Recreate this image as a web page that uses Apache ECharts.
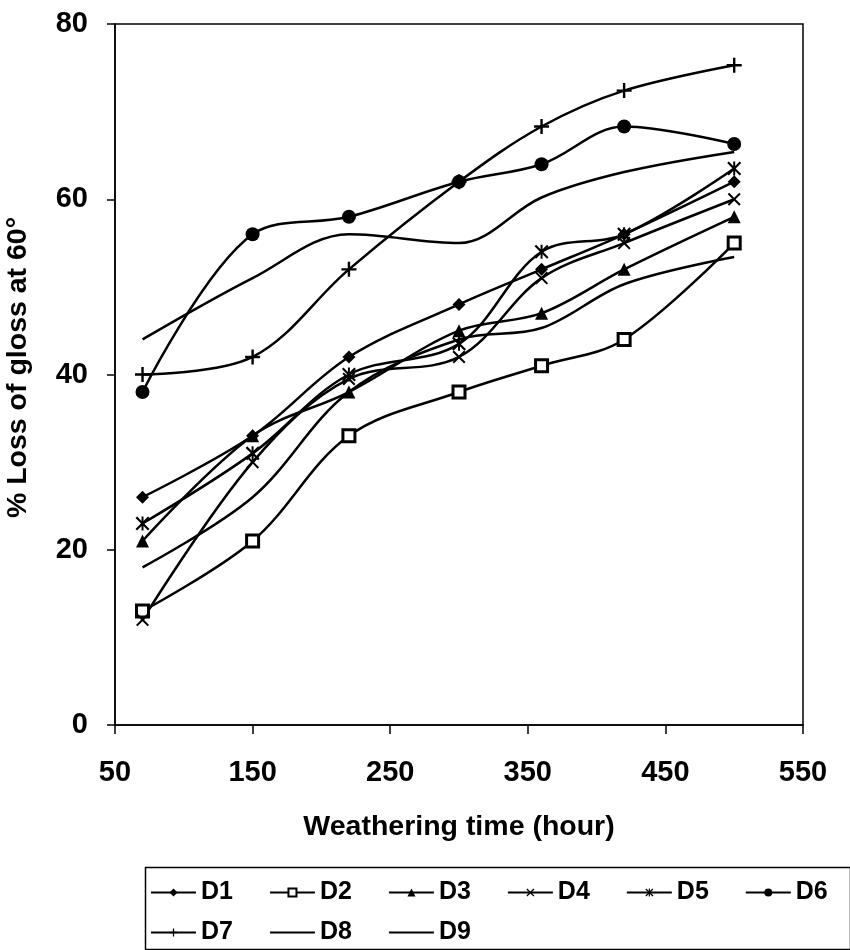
<!DOCTYPE html>
<html>
<head>
<meta charset="utf-8">
<script src="https://cdn.jsdelivr.net/npm/echarts@6/dist/echarts.min.js"></script>
<style>html,body{margin:0;padding:0;background:#fff}#c{width:850px;height:950px}</style>
</head>
<body>
<div id="c"></div>
<script>
var hours = [70, 150, 220, 300, 360, 420, 500];
var seriesNames = ['D1','D2','D3','D4','D5','D6','D7','D8','D9'];
var d1 = [26, 33, 42, 48, 52, 56, 62];
var d2 = [13, 21, 33, 38, 41, 44, 55];
var d3 = [21, 33, 38, 45, 47, 52, 58];
var d4 = [12, 30, 39.5, 42, 51, 55, 60];
var d5 = [23, 31, 40, 43.5, 54, 56, 63.5];
var d6 = [38, 56, 58, 62, 64, 68.3, 66.3];
var d7 = [40, 42, 52, 62, 68.3, 72.4, 75.3];
var d8 = [44, 51, 56, 55, 60.2, 63.1, 65.4];
var d9 = [18, 26, 38, 44, 45.3, 50.3, 53.4];
var xTicks = [50, 150, 250, 350, 450, 550];
var yTicks = [0, 20, 40, 60, 80];

var allData = [d1, d2, d3, d4, d5, d6, d7, d8, d9];
var PLUS = 'path://M4.2,0H5.8V4.2H10V5.8H5.8V10H4.2V5.8H0V4.2H4.2Z';
var CROSS = 'path://M0,1.1L1.1,0L5,3.9L8.9,0L10,1.1L6.1,5L10,8.9L8.9,10L5,6.1L1.1,10L0,8.9L3.9,5Z';
var STAR = 'path://M0,1.1L1.1,0L5,3.9L8.9,0L10,1.1L6.1,5L10,8.9L8.9,10L5,6.1L1.1,10L0,8.9L3.9,5ZM4.3,0H5.7V10H4.3Z';
var symbols = ['diamond','rect','triangle',CROSS,STAR,'circle',PLUS,'circle','circle'];
var sizes = [13, 12, 13, 13, 14, 14, 15, 0, 0];
var FONT = '"Liberation Sans", Arial, sans-serif';

var series = seriesNames.map(function (n, i) {
  var pts = hours.map(function (h, j) { return [h, allData[i][j]]; });
  var noMark = i >= 7;
  return {
    name: n,
    type: 'line',
    data: pts,
    smooth: 0.35,
    symbol: symbols[i],
    symbolSize: sizes[i],
    showSymbol: !noMark,
    lineStyle: { color: '#000', width: 2.5 },
    itemStyle: i === 1 ? { color: '#fff', borderColor: '#000', borderWidth: 3 } :
      (noMark ? { color: 'rgba(0,0,0,0)', borderWidth: 0 } : { color: '#000', borderColor: '#000', borderWidth: 0 }),
    emphasis: { disabled: true },
    animation: false,
    z: 3
  };
});

var legendText = { fontSize: 25, fontWeight: 'bold', color: '#000', fontFamily: FONT };
function legendItems(names) {
  return names.map(function (n) {
    var i = seriesNames.indexOf(n);
    if (i >= 7) return { name: n, itemStyle: { color: 'rgba(0,0,0,0)', borderWidth: 0, opacity: 0 } };
    return { name: n };
  });
}

var chart = echarts.init(document.getElementById('c'), null, { renderer: 'canvas' });
chart.setOption({
  backgroundColor: '#fff',
  animation: false,
  grid: { left: 115, right: 47, top: 24, bottom: 225, outerBoundsMode: 'none', containLabel: false,
    show: true, borderColor: '#000', borderWidth: 1.5, backgroundColor: 'transparent' },
  xAxis: {
    type: 'value', min: 50, max: 550, interval: 100,
    name: 'Weathering time (hour)', nameLocation: 'middle', nameGap: 88,
    nameTextStyle: { fontSize: 28.5, fontWeight: 'bold', color: '#000', fontFamily: FONT },
    axisLine: { show: true, lineStyle: { color: '#000', width: 1.5 } },
    axisTick: { show: true, inside: false, length: 9, lineStyle: { color: '#000', width: 1.5 } },
    axisLabel: { margin: 33, fontSize: 29, fontWeight: 'bold', color: '#000', fontFamily: FONT,
      formatter: function (v) { return xTicks.indexOf(v) >= 0 ? String(v) : ''; } },
    splitLine: { show: false }
  },
  yAxis: {
    type: 'value', min: 0, max: 80, interval: 20,
    name: '% Loss of gloss at 60°', nameLocation: 'middle', nameGap: 82,
    nameTextStyle: { fontSize: 28.5, fontWeight: 'bold', color: '#000', fontFamily: FONT, padding: [0, 0, 0, 14] },
    axisLine: { show: true, lineStyle: { color: '#000', width: 1.5 } },
    axisTick: { show: true, inside: false, length: 8, lineStyle: { color: '#000', width: 1.5 } },
    axisLabel: { margin: 27, fontSize: 29, fontWeight: 'bold', color: '#000', fontFamily: FONT,
      formatter: function (v) { return yTicks.indexOf(v) >= 0 ? String(v) : ''; } },
    splitLine: { show: false }
  },
  legend: [
    { data: legendItems(seriesNames.slice(0, 6)), left: 150, top: 880, orient: 'horizontal', padding: 0,
      itemWidth: 45, itemHeight: 10, itemGap: 36, textStyle: legendText, selectedMode: false,
      lineStyle: { width: 2 } },
    { data: legendItems(seriesNames.slice(6)), left: 150, top: 920, orient: 'horizontal', padding: 0,
      itemWidth: 45, itemHeight: 10, itemGap: 36, textStyle: legendText, selectedMode: false,
      lineStyle: { width: 2 } }
  ],
  graphic: [
    { type: 'rect', left: 143, top: 865, shape: { width: 705, height: 82 },
      style: { fill: 'none', stroke: '#000', lineWidth: 1.5 }, silent: true }
  ],
  series: series
});
</script>
</body>
</html>
